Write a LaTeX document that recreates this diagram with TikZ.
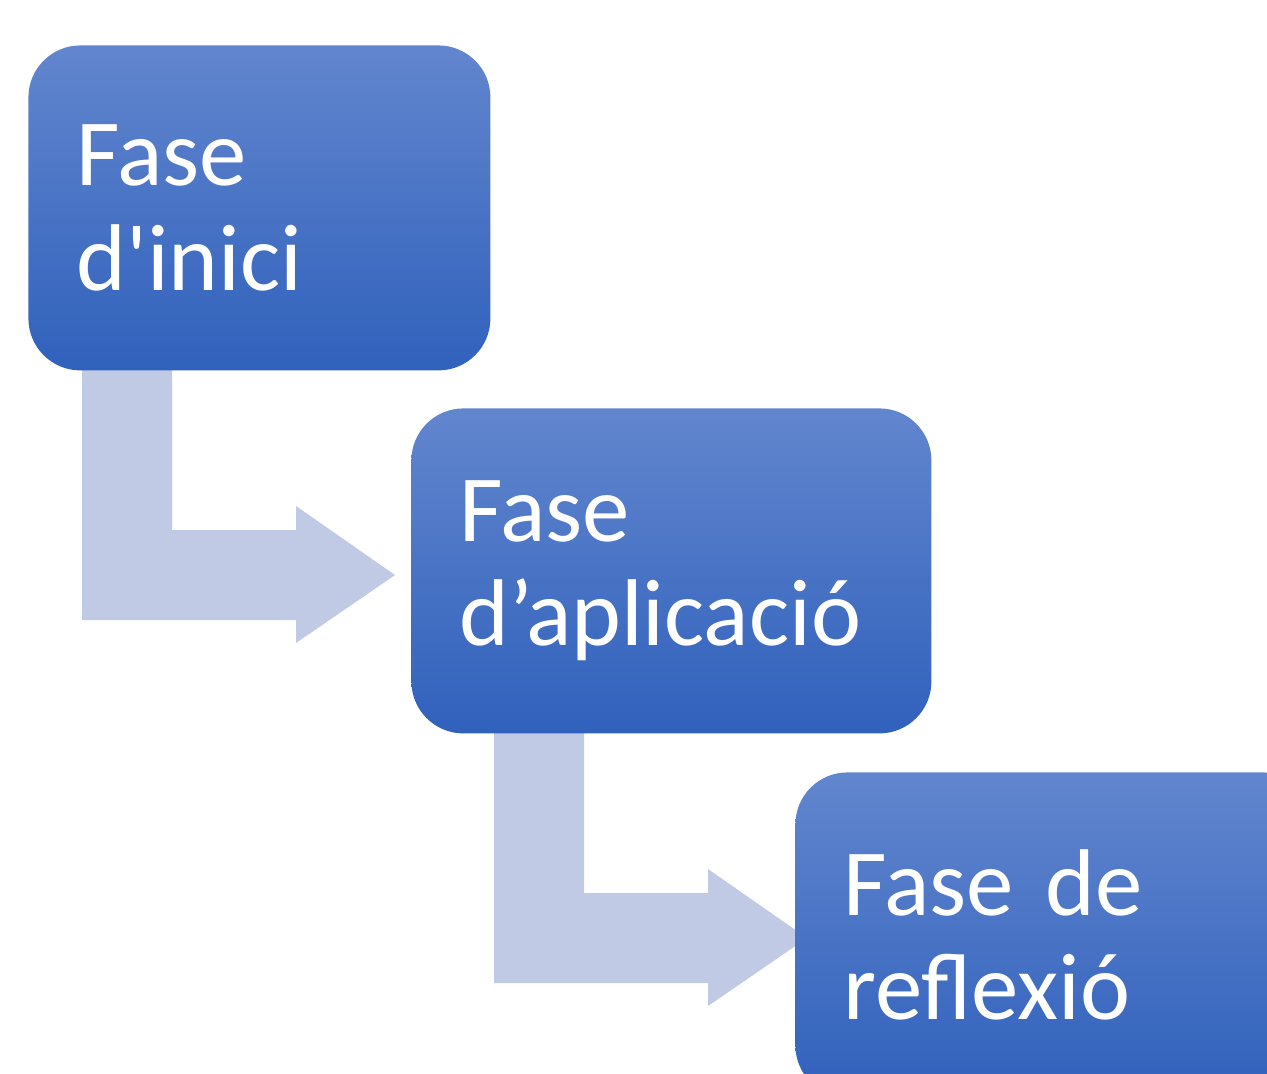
\documentclass[tikz,border=0pt]{standalone}
\usepackage{fontspec}
\setmainfont{Carlito}
\usetikzlibrary{calc}

\definecolor{faseTop}{HTML}{6286CE}
\definecolor{faseBottom}{HTML}{3061BC}
\definecolor{faseArrow}{HTML}{C0CAE4}

% bent arrow, #1 = top left corner of its shaft
\newcommand{\faseArrow}[1]{%
  \fill[faseArrow, shift={#1}] (0,0) -- ++(90,0) -- ++(0,160) -- ++(124,0)
    -- ++(0,-24) -- ++(99,69) -- ++(-99,68) -- ++(0,-23) -- ++(-214,0) -- cycle;}

\begin{document}
\begin{tikzpicture}[x=0.5pt,y=-0.5pt,
	fasebox/.style={rectangle, rounded corners=26pt, top color=faseTop, bottom color=faseBottom,
		draw=none, text=white, anchor=north west, align=left, inner xsep=24pt, inner ysep=0pt,
		minimum height=162.5pt, font=\fontsize{47.4}{52}\selectfont}]
	\useasboundingbox (0,0) rectangle (1267,1073);
	\clip (0,0) rectangle (1267,1073);

	\coordinate (inicipos) at (28,45);
	\coordinate (aplicaciopos) at (411,408);
	\coordinate (reflexiopos) at (795,772);

	% arrows go under the boxes
	\path (inicipos) ++(54,325) coordinate (arrowa);
	\path (aplicaciopos) ++(83,325) coordinate (arrowb);
	\faseArrow{(arrowa)}
	\faseArrow{(arrowb)}

	\node[fasebox, text width=183pt] (inici) at (inicipos) {Fase\\d\textquotesingle inici};
	\node[fasebox, text width=212pt] (aplicacio) at (aplicaciopos) {Fase\\d’aplicació};
	\node[fasebox, text width=212pt] (reflexio) at (reflexiopos) {Fase de\\reflexió};
\end{tikzpicture}
\end{document}
